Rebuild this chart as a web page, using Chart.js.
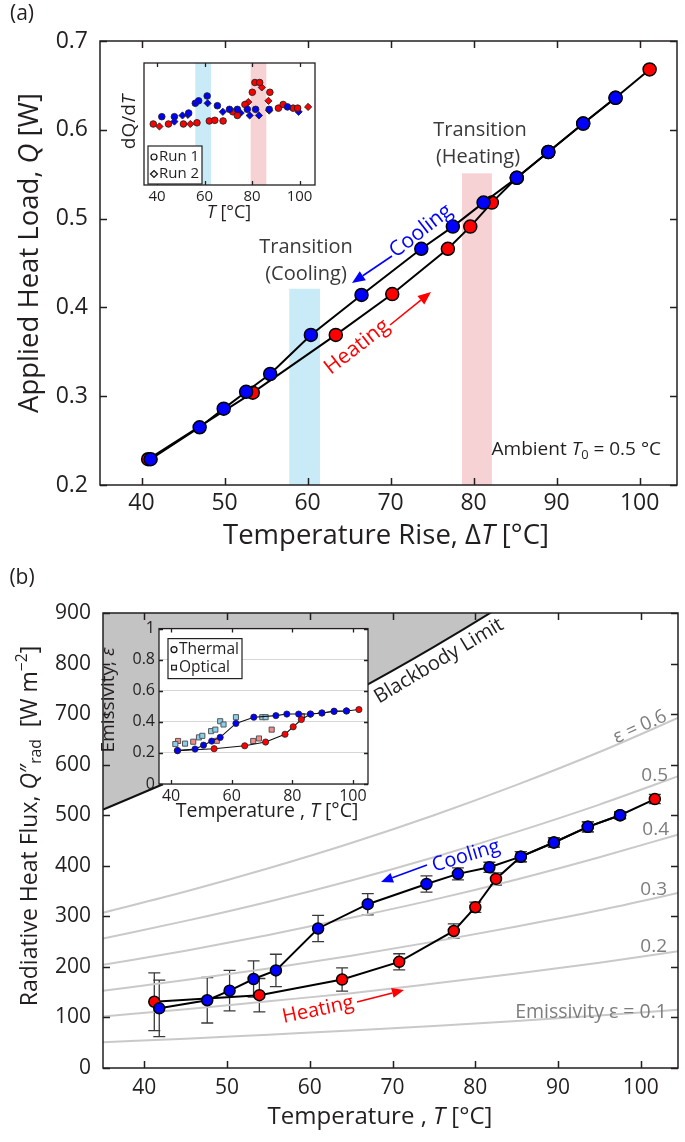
<!DOCTYPE html>
<html>
<head>
<meta charset="utf-8">
<script src="https://cdn.jsdelivr.net/npm/chart.js@4.4.1/dist/chart.umd.min.js"></script>
<style>
html, body { margin: 0; padding: 0; background: #fff; }
body { position: relative; width: 685px; height: 1142px; overflow: hidden; }
canvas { position: absolute; }
</style>
</head>
<body>
<canvas id="mainA" width="685" height="560" style="left:0px;top:0px"></canvas>
<canvas id="insetA" width="215" height="170" style="left:110px;top:55px"></canvas>
<canvas id="mainB" width="685" height="582" style="left:0px;top:560px"></canvas>
<canvas id="insetB" width="285" height="210" style="left:95px;top:615px"></canvas>
<script>
// ---------- panel (a): heat load vs temperature rise ----------
const xTicksA = [40, 50, 60, 70, 80, 90, 100];
const yTicksA = [0.2, 0.3, 0.4, 0.5, 0.6, 0.7];
const heatDT = [40.8, 53.4, 63.4, 70.2, 76.9, 79.6, 82.2, 85.2, 89.0, 93.2, 97.1, 101.2];
const heatQ  = [0.229, 0.304, 0.369, 0.415, 0.466, 0.491, 0.518, 0.546, 0.575, 0.607, 0.636, 0.668];
const coolDT = [97.1, 93.2, 89.0, 85.2, 81.2, 77.5, 73.7, 66.5, 60.4, 55.5, 52.6, 49.9, 47.0, 41.1];
const coolQ  = [0.636, 0.607, 0.575, 0.546, 0.518, 0.491, 0.466, 0.414, 0.369, 0.325, 0.305, 0.286, 0.265, 0.229];
// transition bands [from, to, top]
const bandCoolA = [57.8, 61.5, 0.421];
const bandHeatA = [78.6, 82.2, 0.551];

// inset (a): dQ/dT (arbitrary units)
const xTicksInA = [40, 60, 80, 100];
const bandCoolInA = [56.1, 62.7];
const bandHeatInA = [79.4, 86.0];
const run1HeatT = [38.4, 44.8, 51.1, 56.8, 62.0, 64.3, 67.8, 71.9, 73.8, 77.0, 80.1, 81.2, 83.2, 87.5, 91.1, 93.1, 97.3, 99.2];
const run1HeatV = [0.50, 0.50, 0.50, 0.51, 0.525, 0.53, 0.525, 0.60, 0.57, 0.66, 0.76, 0.84, 0.84, 0.76, 0.63, 0.66, 0.63, 0.63];
const run2HeatT = [41.0, 54.0, 78.4, 84.1, 86.9, 103.6];
const run2HeatV = [0.48, 0.50, 0.68, 0.80, 0.69, 0.64];
const run1CoolT = [42.0, 47.3, 53.3, 56.1, 57.5, 61.1, 65.4, 70.5, 73.8, 78.0, 81.5, 87.2, 94.9];
const run1CoolV = [0.56, 0.56, 0.59, 0.67, 0.69, 0.73, 0.65, 0.62, 0.62, 0.62, 0.62, 0.62, 0.64];
const run2CoolT = [47.3, 50.7, 53.0, 61.3, 67.7, 75.2, 79.0, 82.9, 87.2, 99.6];
const run2CoolV = [0.52, 0.57, 0.575, 0.67, 0.60, 0.59, 0.57, 0.57, 0.61, 0.60];

// ---------- panel (b): radiative heat flux ----------
const xTicksB = [40, 50, 60, 70, 80, 90, 100];
const yTicksB = [0, 100, 200, 300, 400, 500, 600, 700, 800, 900];
const heatT  = [41.2, 53.9, 63.9, 70.8, 77.4, 80.0, 82.5, 85.5, 89.5, 93.6, 97.5, 101.7];
const heatF  = [131, 144, 175, 210, 271, 318, 374, 418, 446, 477, 500, 532];
const heatErr = [57, 33, 23, 16, 14, 10, 12, 10, 9, 10, 7, 9];
const coolT  = [97.5, 93.6, 89.5, 85.5, 81.7, 77.9, 74.1, 67.0, 61.0, 55.9, 53.2, 50.3, 47.6, 41.8];
const coolF  = [500, 477, 446, 418, 397, 384, 364, 324, 276, 193, 176, 153, 134, 118];
const coolErr = [6, 10, 9, 10, 10, 12, 16, 21, 26, 32, 36, 40, 45, 56];
// reference curves read along the temperature grid
const curveT     = [35, 45, 55, 65, 75, 85, 95, 105];
const blackbody  = [511, 581, 658, 741, 833, 933, 1042, 1160];
const emis01 = [51, 58, 66, 74, 83, 93, 104, 116];
const emis02 = [102, 116, 132, 148, 167, 187, 208, 232];
const emis03 = [153, 174, 197, 222, 250, 280, 312, 348];
const emis04 = [204, 232, 263, 297, 333, 373, 417, 464];
const emis05 = [256, 291, 329, 371, 417, 467, 521, 580];
const emis06 = [307, 349, 395, 445, 500, 560, 625, 696];

// inset (b): emissivity
const xTicksInB = [40, 60, 80, 100];
const yTicksInB = [0, 0.2, 0.4, 0.6, 0.8, 1];
const thermCoolT = [97.9, 93.8, 89.8, 86.0, 82.1, 78.2, 74.6, 67.3, 61.4, 56.2, 53.4, 50.7, 47.9, 42.1];
const thermCoolE = [0.47, 0.468, 0.457, 0.45, 0.45, 0.45, 0.44, 0.43, 0.39, 0.30, 0.276, 0.25, 0.225, 0.215];
const thermHeatT = [42.1, 54.2, 64.3, 71.2, 77.6, 80.3, 83.0, 86.0, 89.8, 93.8, 97.9, 102.0];
const thermHeatE = [0.215, 0.227, 0.246, 0.27, 0.32, 0.368, 0.415, 0.45, 0.457, 0.468, 0.47, 0.479];
const optCoolT = [41.4, 44.6, 49.2, 50.3, 53.2, 54.6, 56.2, 57.3, 61.4, 70.1, 71.2];
const optCoolE = [0.257, 0.26, 0.30, 0.31, 0.34, 0.35, 0.404, 0.383, 0.43, 0.43, 0.43];
const optHeatT = [42.3, 47.3, 55.1, 67.1, 69.0, 73.2, 83.2];
const optHeatE = [0.277, 0.272, 0.278, 0.277, 0.293, 0.35, 0.436];

// ---------- styling ----------
const FONT = '"Open Sans", "Liberation Sans", Arial, sans-serif';
const TXT = '#231f20';
const RED = '#ff0000', BLUE = '#0000ff';
const LRED = '#f28b8b', LBLUE = '#8ccfec';
const COOL_BAND = '#c9ebf7', HEAT_BAND = '#f7d2d5';
const GREY_TXT = '#7d7d7d';

const pts = (xs, ys) => xs.map((x, i) => ({ x: x, y: ys[i] }));

function axis(min, max, ticks, o) {
  return {
    type: 'linear', min: min, max: max,
    grid: o.grid ? { display: true, drawTicks: false, color: '#d6d6d6', lineWidth: 1 } : { display: false, drawTicks: false },
    border: { display: false },
    afterBuildTicks: s => { s.ticks = ticks.map(v => ({ value: v })); },
    ticks: {
      display: o.labels !== false, color: TXT, autoSkip: false, maxRotation: 0,
      font: { family: FONT, size: o.size }, padding: o.pad,
      callback: o.fmt || (v => String(v))
    },
    afterFit: s => { if (o.horiz) s.height = o.fit; else s.width = o.fit; }
  };
}

// text with italic / sub / sup pieces
function rich(ctx, parts, x, y, o) {
  const size = o.size;
  const fontOf = st => {
    const small = st.indexOf('sub') >= 0 || st.indexOf('sup') >= 0;
    return (st.indexOf('it') >= 0 ? 'italic ' : '') + (small ? size * 0.68 : size) + 'px ' + FONT;
  };
  ctx.save();
  ctx.translate(x, y);
  if (o.rot) ctx.rotate(o.rot * Math.PI / 180);
  ctx.fillStyle = o.color || TXT;
  ctx.textBaseline = 'middle';
  ctx.textAlign = 'left';
  let w = 0;
  parts.forEach(p => { ctx.font = fontOf(p[1] || ''); w += ctx.measureText(p[0]).width; });
  let cx = o.align === 'left' ? 0 : (o.align === 'right' ? -w : -w / 2);
  parts.forEach(p => {
    const st = p[1] || '';
    ctx.font = fontOf(st);
    const dy = st.indexOf('sub') >= 0 ? size * 0.3 : (st.indexOf('sup') >= 0 ? -size * 0.32 : 0);
    ctx.fillText(p[0], cx, dy);
    cx += ctx.measureText(p[0]).width;
  });
  ctx.restore();
}

function arrow(ctx, x0, y0, x1, y1, color, lw, head) {
  const a = Math.atan2(y1 - y0, x1 - x0);
  const bx = x1 - head * Math.cos(a), by = y1 - head * Math.sin(a);
  const hw = head * 0.42;
  ctx.save();
  ctx.strokeStyle = color; ctx.fillStyle = color; ctx.lineWidth = lw;
  ctx.beginPath(); ctx.moveTo(x0, y0); ctx.lineTo(bx, by); ctx.stroke();
  ctx.beginPath(); ctx.moveTo(x1, y1);
  ctx.lineTo(bx + hw * Math.sin(a), by - hw * Math.cos(a));
  ctx.lineTo(bx - hw * Math.sin(a), by + hw * Math.cos(a));
  ctx.closePath(); ctx.fill();
  ctx.restore();
}

function marker(ctx, style, x, y, r) {
  ctx.save();
  ctx.fillStyle = '#f4f4f4'; ctx.strokeStyle = '#111'; ctx.lineWidth = 1.2;
  Chart.helpers.drawPoint(ctx, { pointStyle: style, radius: r, borderWidth: 1.2, rotation: 0 }, x, y);
  ctx.restore();
}

// ---------- plugins ----------
const whiteArea = {
  id: 'whiteArea',
  beforeDraw(chart, args, opts) {
    if (!opts || !opts.on) return;
    const a = chart.chartArea;
    chart.ctx.save();
    chart.ctx.fillStyle = '#fff';
    chart.ctx.fillRect(a.left, a.top, a.width, a.height);
    chart.ctx.restore();
  }
};

const bands = {
  id: 'bands',
  beforeDatasetsDraw(chart, args, opts) {
    if (!opts || !opts.list) return;
    const { ctx, scales } = chart;
    ctx.save();
    opts.list.forEach(b => {
      const x0 = scales.x.getPixelForValue(b.from), x1 = scales.x.getPixelForValue(b.to);
      const yTop = scales.y.getPixelForValue(b.top != null ? b.top : scales.y.max);
      const yBot = scales.y.getPixelForValue(scales.y.min);
      ctx.fillStyle = b.color;
      ctx.fillRect(x0, yTop, x1 - x0, yBot - yTop);
    });
    ctx.restore();
  }
};

const errBars = {
  id: 'errBars',
  beforeDatasetsDraw(chart) {
    const { ctx, scales } = chart;
    chart.data.datasets.forEach(ds => {
      if (!ds.errors) return;
      ctx.save();
      ctx.strokeStyle = '#3a3a3a'; ctx.lineWidth = 1.3;
      ds.data.forEach((p, i) => {
        const e = ds.errors[i];
        if (!e) return;
        const x = scales.x.getPixelForValue(p.x);
        const y0 = scales.y.getPixelForValue(p.y - e), y1 = scales.y.getPixelForValue(p.y + e);
        ctx.beginPath();
        ctx.moveTo(x, y0); ctx.lineTo(x, y1);
        ctx.moveTo(x - 6, y0); ctx.lineTo(x + 6, y0);
        ctx.moveTo(x - 6, y1); ctx.lineTo(x + 6, y1);
        ctx.stroke();
      });
      ctx.restore();
    });
  }
};

const matBox = {
  id: 'matBox',
  afterDatasetsDraw(chart, args, opts) {
    if (!opts || !opts.len) return;
    const { ctx, chartArea: a, scales } = chart;
    ctx.save();
    ctx.strokeStyle = '#231f20';
    ctx.lineWidth = opts.lw || 1.5;
    ctx.beginPath();
    scales.x.ticks.forEach(t => {
      const px = Math.round(scales.x.getPixelForValue(t.value)) + 0.5;
      ctx.moveTo(px, a.bottom); ctx.lineTo(px, a.bottom - opts.len);
      ctx.moveTo(px, a.top); ctx.lineTo(px, a.top + opts.len);
    });
    if (opts.yTicks !== false) {
      scales.y.ticks.forEach(t => {
        const py = Math.round(scales.y.getPixelForValue(t.value)) + 0.5;
        ctx.moveTo(a.left, py); ctx.lineTo(a.left + opts.len, py);
        ctx.moveTo(a.right, py); ctx.lineTo(a.right - opts.len, py);
      });
    }
    ctx.stroke();
    ctx.strokeRect(a.left, a.top, a.width, a.height);
    ctx.restore();
  }
};

const notes = {
  id: 'notes',
  afterDraw(chart, args, opts) {
    if (opts && opts.draw) opts.draw(chart, chart.ctx);
  }
};

Chart.register(whiteArea, bands, errBars, matBox, notes);

const base = {
  responsive: false, animation: false, devicePixelRatio: 1,
  events: []
};

// ---------- chart (a) ----------
new Chart(document.getElementById('mainA'), {
  type: 'scatter',
  data: {
    datasets: [
      {
        label: 'Cooling', data: pts(coolDT, coolQ), showLine: true, order: 1,
        borderColor: '#000', borderWidth: 2,
        pointRadius: 6.5, pointBackgroundColor: BLUE, pointBorderColor: '#000', pointBorderWidth: 1.5
      },
      {
        label: 'Heating', data: pts(heatDT, heatQ), showLine: true, order: 2,
        borderColor: '#000', borderWidth: 2,
        pointRadius: 6.5, pointBackgroundColor: RED, pointBorderColor: '#000', pointBorderWidth: 1.5
      }
    ]
  },
  options: Object.assign({}, base, {
    layout: { padding: { left: 0, top: 41, right: 4, bottom: 0 } },
    plugins: {
      legend: { display: false }, tooltip: { enabled: false },
      bands: { list: [
        { from: bandCoolA[0], to: bandCoolA[1], top: bandCoolA[2], color: COOL_BAND },
        { from: bandHeatA[0], to: bandHeatA[1], top: bandHeatA[2], color: HEAT_BAND }
      ] },
      matBox: { len: 7, lw: 1.5 },
      notes: { draw: (chart, ctx) => {
        rich(ctx, [['(a)']], 22, 14, { size: 21 });
        rich(ctx, [['Applied Heat Load, '], ['Q', 'it'], [' [W]']], 30, 253, { size: 27.5, rot: -90 });
        rich(ctx, [['Temperature Rise, Δ'], ['T', 'it'], [' [°C]']], 386, 536, { size: 27.5 });
        rich(ctx, [['Transition']], 306, 247, { size: 20, color: '#3a3a3a' });
        rich(ctx, [['(Cooling)']], 306, 274, { size: 20, color: '#3a3a3a' });
        rich(ctx, [['Transition']], 480, 130, { size: 20, color: '#3a3a3a' });
        rich(ctx, [['(Heating)']], 478, 157, { size: 20, color: '#3a3a3a' });
        rich(ctx, [['Cooling']], 421, 231, { size: 21, color: BLUE, rot: -38 });
        arrow(ctx, 392, 256, 352, 283, BLUE, 1.6, 13);
        rich(ctx, [['Heating']], 357, 347, { size: 21, color: RED, rot: -38 });
        arrow(ctx, 390, 325, 431, 292, RED, 1.6, 13);
        rich(ctx, [['Ambient '], ['T', 'it'], ['0', 'sub'], [' = 0.5 °C']], 661, 450, { size: 19, align: 'right' });
      } }
    },
    scales: {
      x: axis(35, 104.5, xTicksA, { size: 23, pad: 5, horiz: true, fit: 75 }),
      y: axis(0.2, 0.7, yTicksA, { size: 23, pad: 12, fit: 100, fmt: v => v.toFixed(1) })
    }
  })
});

// ---------- inset (a) ----------
const smallPt = (color, style, r) => ({
  pointStyle: style, pointRadius: r, pointBackgroundColor: color,
  pointBorderColor: '#222', pointBorderWidth: 0.9, showLine: false
});
new Chart(document.getElementById('insetA'), {
  type: 'scatter',
  data: {
    datasets: [
      Object.assign({ label: 'Run 2 heat', data: pts(run2HeatT, run2HeatV), order: 4 }, smallPt(RED, 'rectRot', 3.6)),
      Object.assign({ label: 'Run 2 cool', data: pts(run2CoolT, run2CoolV), order: 3 }, smallPt(BLUE, 'rectRot', 3.6)),
      Object.assign({ label: 'Run 1 heat', data: pts(run1HeatT, run1HeatV), order: 2 }, smallPt(RED, 'circle', 3.3)),
      Object.assign({ label: 'Run 1 cool', data: pts(run1CoolT, run1CoolV), order: 1 }, smallPt(BLUE, 'circle', 3.3))
    ]
  },
  options: Object.assign({}, base, {
    layout: { padding: { left: 0, top: 8, right: 10, bottom: 0 } },
    plugins: {
      legend: { display: false }, tooltip: { enabled: false },
      whiteArea: { on: true },
      bands: { list: [
        { from: bandCoolInA[0], to: bandCoolInA[1], color: COOL_BAND },
        { from: bandHeatInA[0], to: bandHeatInA[1], color: HEAT_BAND }
      ] },
      matBox: { len: 4, lw: 1.3, yTicks: false },
      notes: { draw: (chart, ctx) => {
        const a = chart.chartArea;
        rich(ctx, [['dQ/d'], ['T', 'it']], 20, 67, { size: 19, rot: -90 });
        rich(ctx, [['T', 'it'], [' [°C]']], 119, 158, { size: 18 });
        const lx = a.left + 4, ly = a.bottom - 39;
        ctx.save();
        ctx.fillStyle = '#fff'; ctx.strokeStyle = '#222'; ctx.lineWidth = 1.2;
        ctx.fillRect(lx, ly, 54, 38); ctx.strokeRect(lx, ly, 54, 38);
        ctx.restore();
        marker(ctx, 'circle', lx + 6, ly + 11, 3);
        marker(ctx, 'rectRot', lx + 6, ly + 28, 3.5);
        rich(ctx, [['Run 1']], lx + 11, ly + 11, { size: 15, align: 'left' });
        rich(ctx, [['Run 2']], lx + 11, ly + 28, { size: 15, align: 'left' });
      } }
    },
    scales: {
      x: axis(34.5, 106.5, xTicksInA, { size: 15, pad: 3, horiz: true, fit: 40 }),
      y: axis(0, 1, [], { labels: false, size: 10, pad: 0, fit: 34 })
    }
  })
});

// ---------- chart (b) ----------
const refLine = (data, order) => ({
  data: pts(curveT, data), showLine: true, order: order,
  borderColor: '#c9c9c9', borderWidth: 2, pointRadius: 0, cubicInterpolationMode: 'monotone'
});
new Chart(document.getElementById('mainB'), {
  type: 'scatter',
  data: {
    datasets: [
      {
        label: 'Blackbody', data: pts(curveT, blackbody), showLine: true, order: 20,
        borderColor: '#111', borderWidth: 2, pointRadius: 0, cubicInterpolationMode: 'monotone',
        fill: 'end', backgroundColor: '#c3c3c3'
      },
      refLine(emis01, 10), refLine(emis02, 10), refLine(emis03, 10),
      refLine(emis04, 10), refLine(emis05, 10), refLine(emis06, 10),
      {
        label: 'Cooling', data: pts(coolT, coolF), errors: coolErr, showLine: true, order: 1,
        borderColor: '#000', borderWidth: 2,
        pointRadius: 5.5, pointBackgroundColor: BLUE, pointBorderColor: '#000', pointBorderWidth: 1.5
      },
      {
        label: 'Heating', data: pts(heatT, heatF), errors: heatErr, showLine: true, order: 2,
        borderColor: '#000', borderWidth: 2,
        pointRadius: 5.5, pointBackgroundColor: RED, pointBorderColor: '#000', pointBorderWidth: 1.5
      }
    ]
  },
  options: Object.assign({}, base, {
    layout: { padding: { left: 0, top: 53, right: 4, bottom: 0 } },
    plugins: {
      legend: { display: false }, tooltip: { enabled: false },
      matBox: { len: 7, lw: 1.5 },
      notes: { draw: (chart, ctx) => {
        const Y = v => v - 560;
        rich(ctx, [['(b)']], 22, Y(578), { size: 21 });
        rich(ctx, [['Radiative Heat Flux, '], ['Q', 'it'], ['″'], ['rad', 'sub'], ['  [W m'], ['−2', 'sup'], [']']], 30, Y(826), { size: 23, rot: -90 });
        rich(ctx, [['Temperature , '], ['T', 'it'], [' [°C]']], 380, Y(1117), { size: 24 });
        rich(ctx, [['Blackbody Limit']], 439, Y(661), { size: 20, rot: -31 });
        rich(ctx, [['ε = 0.6']], 640, Y(727), { size: 19, color: GREY_TXT, rot: -24 });
        rich(ctx, [['0.5']], 668, Y(776), { size: 19, color: GREY_TXT, align: 'right' });
        rich(ctx, [['0.4']], 669, Y(830), { size: 19, color: GREY_TXT, align: 'right' });
        rich(ctx, [['0.3']], 667, Y(890), { size: 19, color: GREY_TXT, align: 'right' });
        rich(ctx, [['0.2']], 667, Y(947), { size: 19, color: GREY_TXT, align: 'right' });
        rich(ctx, [['Emissivity ε = 0.1']], 667, Y(1012), { size: 19.5, color: GREY_TXT, align: 'right' });
        rich(ctx, [['Cooling']], 466, Y(856), { size: 20, color: BLUE, rot: -17 });
        arrow(ctx, 427, Y(865), 381, Y(882), BLUE, 1.6, 12);
        rich(ctx, [['Heating']], 318, Y(1010), { size: 20, color: RED, rot: -12 });
        arrow(ctx, 357, Y(1002), 404, Y(990), RED, 1.6, 12);
      } }
    },
    scales: {
      x: axis(35, 104.5, xTicksB, { size: 21, pad: 7, horiz: true, fit: 74 }),
      y: axis(0, 900, yTicksB, { size: 21, pad: 12, fit: 103 })
    }
  })
});

// ---------- inset (b) ----------
new Chart(document.getElementById('insetB'), {
  type: 'scatter',
  data: {
    datasets: [
      {
        label: 'Optical heat', data: pts(optHeatT, optHeatE), order: 4,
        pointStyle: 'rect', pointRadius: 3.6, pointBackgroundColor: LRED, pointBorderColor: '#555', pointBorderWidth: 1
      },
      {
        label: 'Optical cool', data: pts(optCoolT, optCoolE), order: 3,
        pointStyle: 'rect', pointRadius: 3.6, pointBackgroundColor: LBLUE, pointBorderColor: '#555', pointBorderWidth: 1
      },
      {
        label: 'Thermal heat', data: pts(thermHeatT, thermHeatE), showLine: true, order: 2,
        borderColor: '#111', borderWidth: 1.1,
        pointRadius: 3.1, pointBackgroundColor: RED, pointBorderColor: '#222', pointBorderWidth: 0.8
      },
      {
        label: 'Thermal cool', data: pts(thermCoolT, thermCoolE), showLine: true, order: 1,
        borderColor: '#111', borderWidth: 1.1,
        pointRadius: 3.1, pointBackgroundColor: BLUE, pointBorderColor: '#222', pointBorderWidth: 0.8
      }
    ]
  },
  options: Object.assign({}, base, {
    layout: { padding: { left: 0, top: 12, right: 12, bottom: 0 } },
    plugins: {
      legend: { display: false }, tooltip: { enabled: false },
      whiteArea: { on: true },
      matBox: { len: 4, lw: 1.3 },
      notes: { draw: (chart, ctx) => {
        const a = chart.chartArea;
        rich(ctx, [['Emissivity, '], ['ε', 'it']], 14, 85, { size: 19, rot: -90 });
        rich(ctx, [['Temperature , '], ['T', 'it'], [' [°C]']], 172, 196, { size: 19.5 });
        const lx = a.left + 9, ly = a.top + 10;
        ctx.save();
        ctx.fillStyle = '#fff'; ctx.strokeStyle = '#222'; ctx.lineWidth = 1.2;
        ctx.fillRect(lx, ly, 74, 40); ctx.strokeRect(lx, ly, 74, 40);
        ctx.restore();
        marker(ctx, 'circle', lx + 6, ly + 11, 3);
        marker(ctx, 'rect', lx + 6, ly + 29, 3.3);
        rich(ctx, [['Thermal']], lx + 11, ly + 11, { size: 15.5, align: 'left' });
        rich(ctx, [['Optical']], lx + 11, ly + 29, { size: 15.5, align: 'left' });
      } }
    },
    scales: {
      x: axis(36, 105, xTicksInB, { size: 16, pad: 3, horiz: true, fit: 41 }),
      y: axis(0, 1, yTicksInB, { size: 16, pad: 4, fit: 64, grid: true })
    }
  })
});
</script>
</body>
</html>
